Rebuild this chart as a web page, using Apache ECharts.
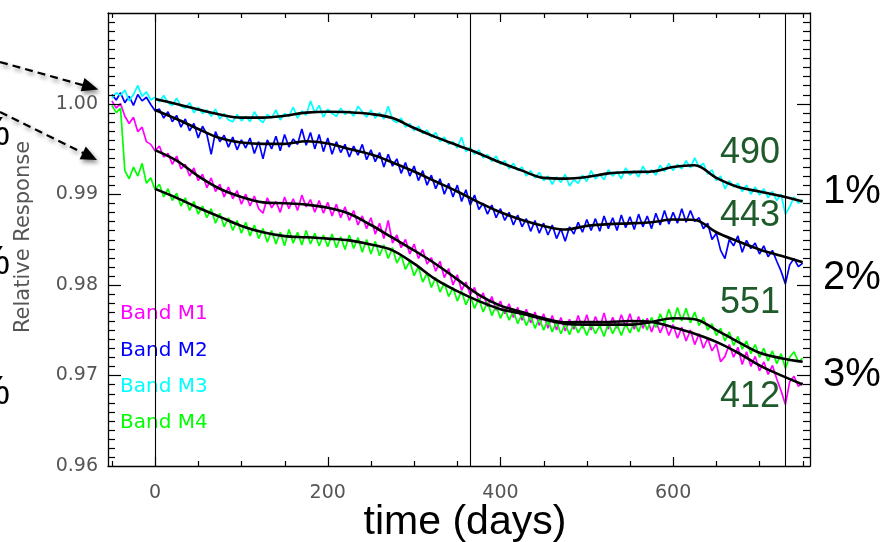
<!DOCTYPE html>
<html><head><meta charset="utf-8">
<script src="https://cdn.jsdelivr.net/npm/echarts@6/dist/echarts.min.js"></script>
<style>html,body{margin:0;padding:0;background:#fff}#c{width:885px;height:542px}</style>
</head><body><div id="c"></div>
<script>
// ---- data ----
const days = [-50,-45,-40,-35,-30,-25,-20,-15,-10,-5,
  0,5,10,15,20,25,30,35,40,45, 50,55,60,65,70,75,80,85,90,95,
  100,105,110,115,120,125,130,135,140,145, 150,155,160,165,170,175,180,185,190,195,
  200,205,210,215,220,225,230,235,240,245, 250,255,260,265,270,275,280,285,290,295,
  300,305,310,315,320,325,330,335,340,345, 350,355,360,365,370,375,380,385,390,395,
  400,405,410,415,420,425,430,435,440,445, 450,455,460,465,470,475,480,485,490,495,
  500,505,510,515,520,525,530,535,540,545, 550,555,560,565,570,575,580,585,590,595,
  600,605,610,615,620,625,630,635,640,645, 650,655,660,665,670,675,680,685,690,695,
  700,705,710,715,720,725,730,735,740,745, 750];
const fitDays = [0,25,50,75,100,125,150,175,200,225,250,275,300,325,350,375,400,425,450,475,500,525,550,575,600,625,650,675,700,725,750];

const m1Raw = [1.0003,0.9995,1.0000,0.9986,0.9978,0.9985,0.9969,0.9974,0.9958,0.9955,
  0.9948,0.9953,0.9941,0.9945,0.9933,0.9942,0.9928,0.9933,0.9920,0.9929,
  0.9915,0.9922,0.9907,0.9918,0.9903,0.9911,0.9897,0.9908,0.9895,0.9904,
  0.9889,0.9900,0.9887,0.9898,0.9884,0.9879,0.9896,0.9885,0.9892,0.9880,
  0.9897,0.9884,0.9895,0.9882,0.9899,0.9886,0.9894,0.9880,0.9893,0.9879,
  0.9891,0.9876,0.9889,0.9874,0.9886,0.9871,0.9882,0.9866,0.9876,0.9862,
  0.9874,0.9856,0.9868,0.9851,0.9871,0.9846,0.9855,0.9841,0.9850,0.9834,
  0.9845,0.9829,0.9839,0.9823,0.9830,0.9815,0.9826,0.9808,0.9818,0.9800,
  0.9811,0.9794,0.9803,0.9789,0.9797,0.9782,0.9791,0.9776,0.9787,0.9772,
  0.9782,0.9768,0.9779,0.9764,0.9775,0.9761,0.9773,0.9758,0.9770,0.9755,
  0.9768,0.9752,0.9766,0.9750,0.9764,0.9749,0.9762,0.9751,0.9766,0.9752,
  0.9767,0.9750,0.9765,0.9753,0.9769,0.9751,0.9764,0.9752,0.9767,0.9754,
  0.9768,0.9751,0.9765,0.9752,0.9763,0.9748,0.9760,0.9747,0.9758,0.9744,
  0.9756,0.9741,0.9753,0.9738,0.9750,0.9734,0.9746,0.9730,0.9741,0.9727,
  0.9735,0.9715,0.9721,0.9734,0.9720,0.9731,0.9712,0.9726,0.9710,0.9721,
  0.9705,0.9715,0.9701,0.9711,0.9696,0.9683,0.9668,0.9693,0.9699,0.9688,
  0.9692];
const m2Raw = [1.0010,1.0004,1.0012,1.0001,1.0008,0.9998,1.0010,1.0003,1.0007,0.9999,
  0.9992,0.9994,0.9984,0.9991,0.9980,0.9987,0.9974,0.9983,0.9970,0.9978,
  0.9962,0.9975,0.9966,0.9944,0.9969,0.9958,0.9965,0.9952,0.9963,0.9949,
  0.9960,0.9951,0.9962,0.9945,0.9958,0.9939,0.9960,0.9950,0.9964,0.9948,
  0.9966,0.9952,0.9961,0.9955,0.9972,0.9954,0.9968,0.9950,0.9966,0.9947,
  0.9962,0.9944,0.9958,0.9946,0.9955,0.9941,0.9953,0.9943,0.9955,0.9938,
  0.9949,0.9936,0.9946,0.9930,0.9944,0.9931,0.9939,0.9923,0.9935,0.9920,
  0.9931,0.9915,0.9926,0.9910,0.9921,0.9906,0.9917,0.9900,0.9912,0.9897,
  0.9910,0.9892,0.9905,0.9888,0.9899,0.9883,0.9890,0.9878,0.9888,0.9874,
  0.9884,0.9871,0.9880,0.9866,0.9877,0.9864,0.9873,0.9859,0.9871,0.9857,
  0.9868,0.9855,0.9866,0.9851,0.9862,0.9848,0.9864,0.9856,0.9869,0.9858,
  0.9872,0.9860,0.9873,0.9859,0.9876,0.9862,0.9874,0.9860,0.9877,0.9863,
  0.9875,0.9861,0.9878,0.9864,0.9876,0.9862,0.9879,0.9866,0.9882,0.9867,
  0.9880,0.9868,0.9884,0.9869,0.9882,0.9870,0.9874,0.9862,0.9868,0.9850,
  0.9857,0.9838,0.9829,0.9850,0.9843,0.9854,0.9836,0.9849,0.9840,0.9846,
  0.9834,0.9843,0.9831,0.9838,0.9826,0.9815,0.9801,0.9822,0.9829,0.9820,
  0.9824];
const m3Raw = [1.0006,1.0012,1.0009,1.0015,1.0003,1.0010,1.0020,1.0008,1.0013,1.0004,
  1.0007,1.0002,1.0009,1.0001,0.9998,1.0006,0.9997,0.9995,1.0001,0.9990,
  0.9996,0.9989,0.9993,0.9986,0.9994,0.9983,0.9989,0.9982,0.9980,0.9988,
  0.9981,0.9986,0.9980,0.9991,0.9983,0.9979,0.9988,0.9984,0.9993,0.9982,
  0.9989,0.9986,0.9996,0.9984,0.9992,0.9987,1.0003,0.9990,0.9998,0.9985,
  0.9994,0.9989,0.9986,0.9995,0.9988,0.9992,0.9986,0.9997,0.9991,0.9985,
  0.9993,0.9984,0.9990,0.9983,0.9997,0.9982,0.9979,0.9984,0.9974,0.9978,
  0.9970,0.9975,0.9967,0.9971,0.9963,0.9968,0.9958,0.9963,0.9955,0.9958,
  0.9951,0.9963,0.9947,0.9952,0.9944,0.9949,0.9940,0.9944,0.9936,0.9942,
  0.9933,0.9937,0.9928,0.9934,0.9926,0.9930,0.9920,0.9926,0.9918,0.9924,
  0.9915,0.9920,0.9911,0.9919,0.9913,0.9922,0.9909,0.9916,0.9912,0.9921,
  0.9914,0.9926,0.9917,0.9922,0.9916,0.9927,0.9920,0.9925,0.9917,0.9929,
  0.9921,0.9926,0.9919,0.9931,0.9922,0.9927,0.9921,0.9932,0.9925,0.9934,
  0.9926,0.9933,0.9928,0.9937,0.9929,0.9940,0.9930,0.9934,0.9922,0.9927,
  0.9915,0.9920,0.9906,0.9915,0.9908,0.9912,0.9903,0.9910,0.9900,0.9908,
  0.9899,0.9906,0.9896,0.9903,0.9893,0.9900,0.9878,0.9886,0.9897,0.9890,
  0.9894];
const m4Raw = [0.9998,0.9990,0.9995,0.9926,0.9917,0.9930,0.9920,0.9934,0.9912,0.9918,
  0.9905,0.9911,0.9897,0.9906,0.9893,0.9901,0.9887,0.9896,0.9882,0.9892,
  0.9878,0.9887,0.9874,0.9884,0.9868,0.9879,0.9864,0.9874,0.9860,0.9871,
  0.9857,0.9869,0.9854,0.9866,0.9851,0.9862,0.9847,0.9860,0.9845,0.9858,
  0.9843,0.9861,0.9846,0.9858,0.9844,0.9860,0.9845,0.9857,0.9843,0.9855,
  0.9842,0.9856,0.9841,0.9853,0.9839,0.9855,0.9840,0.9852,0.9836,0.9850,
  0.9834,0.9848,0.9832,0.9844,0.9829,0.9841,0.9824,0.9833,0.9817,0.9826,
  0.9810,0.9820,0.9803,0.9813,0.9797,0.9808,0.9792,0.9802,0.9787,0.9797,
  0.9782,0.9793,0.9778,0.9788,0.9774,0.9785,0.9770,0.9781,0.9766,0.9777,
  0.9763,0.9774,0.9761,0.9771,0.9757,0.9768,0.9755,0.9766,0.9752,0.9763,
  0.9750,0.9761,0.9748,0.9759,0.9746,0.9757,0.9745,0.9758,0.9747,0.9756,
  0.9744,0.9757,0.9746,0.9755,0.9743,0.9758,0.9746,0.9756,0.9744,0.9757,
  0.9747,0.9759,0.9748,0.9762,0.9750,0.9764,0.9753,0.9768,0.9757,0.9773,
  0.9759,0.9775,0.9760,0.9774,0.9758,0.9770,0.9755,0.9764,0.9750,0.9757,
  0.9744,0.9752,0.9738,0.9748,0.9733,0.9743,0.9729,0.9738,0.9724,0.9734,
  0.9720,0.9730,0.9716,0.9727,0.9713,0.9724,0.9708,0.9720,0.9726,0.9715,
  0.9719];

const m1Fit = [0.99486,0.9937,0.9920,0.9906,0.9897,0.9891,0.9890,0.98885,0.9885,0.98785,0.9866,0.9852,0.9838,0.9823,0.9806,0.9789,0.9777,0.9770,0.9763,0.97585,0.9759,0.9759,0.9760,0.9759,0.9753,0.9746,0.9737,0.9725,0.9711,0.9700,0.9690];
const m2Fit = [0.9993,0.9983,0.9972,0.9962,0.9957,0.99555,0.99556,0.99585,0.9956,0.9950,0.9944,0.9935,0.9925,0.9914,0.9903,0.9891,0.9880,0.98715,0.9865,0.9861,0.9865,0.9867,0.98678,0.9869,0.9872,0.98715,0.9858,0.9848,0.9839,0.9832,0.9825];
const m3Fit = [1.0005,0.99995,0.99935,0.9988,0.99845,0.99845,0.99865,0.99900,0.99910,0.99905,0.99885,0.9984,0.9973,0.9963,0.9954,0.9945,0.9935,0.9926,0.9918,0.99172,0.9919,0.9923,0.99244,0.9925,0.9930,0.9932,0.9918,0.9908,0.9903,0.9898,0.9892];
const m4Fit = [0.99059,0.9896,0.9885,0.9875,0.9865,0.9858,0.98537,0.98525,0.9851,0.9849,0.98445,0.9838,0.98233,0.9806,0.9793,0.9782,0.9773,0.9768,0.9762,0.9757,0.9756,0.9756,0.9756,0.9759,0.9763,0.9762,0.9750,0.9737,0.9725,0.9719,0.9715];

const bandNames = ['Band M1','Band M2','Band M3','Band M4'];
const bandColors = ['#ff00ff','#0000ff','#00ffff','#00ff00'];
const xMajorTicks = [0,200,400,600];
const xMinorTicks = [-50,50,100,150,250,300,350,450,500,550,650,700,750];
const yMajorTicks = [0.97,0.98,0.99,1.00];
const yLabelTicks = [0.96,0.97,0.98,0.99,1.00];
const yMinorTicks = [0.961,0.962,0.963,0.964,0.965,0.966,0.967,0.968,0.969,
  0.971,0.972,0.973,0.974,0.975,0.976,0.977,0.978,0.979,
  0.981,0.982,0.983,0.984,0.985,0.986,0.987,0.988,0.989,
  0.991,0.992,0.993,0.994,0.995,0.996,0.997,0.998,0.999,
  1.001,1.002,1.003,1.004,1.005,1.006,1.007,1.008,1.009];
const yearLines = [0,365,730];
const wavelengths = ['490','443','551','412'];
const percents = ['1%','2%','3%'];

// ---- chart ----
const chart = echarts.init(document.getElementById('c'));
const XMIN = -54.5, XMAX = 758.5, YMIN = 0.96, YMAX = 1.01;
const lblFont = '"DejaVu Sans", sans-serif';

function xAx(pos, withLabels){
  return {
    type:'value', position:pos, min:XMIN, max:XMAX, splitLine:{show:false},
    axisLine:{show:true, onZero:false, lineStyle:{color:'#000', width:1.3}},
    axisTick:{show:false},
    axisLabel:{show:withLabels, customValues: xMajorTicks, margin:18, fontFamily:lblFont, fontSize:19, color:'#555'}
  };
}
function yAx(pos, withLabels){
  return {
    type:'value', position:pos, min:YMIN, max:YMAX, splitLine:{show:false},
    axisLine:{show:true, onZero:false, lineStyle:{color:'#000', width:1.3}},
    axisTick:{show:false},
    axisLabel:{show:withLabels, customValues: yLabelTicks, margin:10, fontFamily:lblFont, fontSize:19, color:'#555',
      formatter:v=>Number(v).toFixed(2)}
  };
}

const series = [];
const raws = [m1Raw, m2Raw, m3Raw, m4Raw];
const fits = [m1Fit, m2Fit, m3Fit, m4Fit];
raws.forEach((r,k)=>{
  series.push({name:bandNames[k], type:'line', symbol:'none', z:2, animation:false,
    lineStyle:{color:bandColors[k], width:1.7}, itemStyle:{color:bandColors[k]},
    data: days.map((d,i)=>[d, r[i]])});
});
fits.forEach((f,k)=>{
  series.push({name:bandNames[k]+' fit', type:'line', symbol:'none', smooth:0.35, z:4, animation:false,
    lineStyle:{color:'#000', width:2.6},
    data: fitDays.map((d,i)=>[d, f[i]])});
});
series.push({type:'line', data:[], z:1, animation:false,
  markLine:{symbol:'none', silent:true, animation:false, label:{show:false},
    lineStyle:{color:'#000', width:1.1, type:'solid'},
    data: yearLines.map(v=>({xAxis:v}))}});

// Tick marks on all four frame edges, placed through the axis scales (api.coord)
const tickStyle = {stroke:'#000', lineWidth:1.2};
function xTickSeries(vals, len){
  return {type:'custom', silent:true, z:6, animation:false, clip:false,
    encode:{x:0, y:1},
    data: vals.map(v=>[v, YMIN]),
    renderItem:(params, api)=>{
      const cs = params.coordSys;
      const x = Math.round(api.coord([api.value(0), YMIN])[0]) + 0.5;
      const yb = cs.y + cs.height, yt = cs.y;
      return {type:'group', children:[
        {type:'line', shape:{x1:x, y1:yb, x2:x, y2:yb-len}, style:tickStyle},
        {type:'line', shape:{x1:x, y1:yt, x2:x, y2:yt+len}, style:tickStyle}
      ]};
    }};
}
function yTickSeries(vals, len){
  return {type:'custom', silent:true, z:6, animation:false, clip:false,
    encode:{x:0, y:1},
    data: vals.map(v=>[XMIN, v]),
    renderItem:(params, api)=>{
      const cs = params.coordSys;
      const y = Math.round(api.coord([XMIN, api.value(1)])[1]) + 0.5;
      const xl = cs.x, xr = cs.x + cs.width;
      return {type:'group', children:[
        {type:'line', shape:{x1:xl, y1:y, x2:xl+len, y2:y}, style:tickStyle},
        {type:'line', shape:{x1:xr, y1:y, x2:xr-len, y2:y}, style:tickStyle}
      ]};
    }};
}
series.push(xTickSeries(xMajorTicks, 9));
series.push(xTickSeries(xMinorTicks, 5));
series.push(yTickSeries(yMajorTicks, 13));
series.push(yTickSeries(yMinorTicks, 7));

function txt(x,y,text,font,fill,align,extra){
  return Object.assign({type:'text', x:x, y:y, silent:true,
    style:{text:text, font:font, fill:fill, align:align||'center', verticalAlign:'middle'}}, extra||{});
}
const green = '#1e5a2a';
const bigFont = '36px "Liberation Sans", Arial, sans-serif';
const pctFont = '40px "Liberation Sans", Arial, sans-serif';
const shadow = {shadowBlur:4, shadowColor:'rgba(0,0,0,0.45)', shadowOffsetX:2, shadowOffsetY:3};

const graphic = [
  txt(24, 237, 'Relative Response', '21px "DejaVu Sans", sans-serif', '#555', 'center', {rotation:Math.PI/2}),
  txt(750, 153.5, wavelengths[0], bigFont, green),
  txt(750, 216.5, wavelengths[1], bigFont, green),
  txt(750, 303.5, wavelengths[2], bigFont, green),
  txt(750, 397.5, wavelengths[3], bigFont, green),
  txt(823, 192, percents[0], pctFont, '#000', 'left'),
  txt(823, 278, percents[1], pctFont, '#000', 'left'),
  txt(823, 375, percents[2], pctFont, '#000', 'left'),
  txt(10, 134, '%', pctFont, '#000', 'right'),
  txt(10, 263, '%', pctFont, '#000', 'right'),
  txt(10, 393, '%', pctFont, '#000', 'right'),
  txt(465, 523, 'time (days)', '41px "Liberation Sans", Arial, sans-serif', '#000'),
  txt(120, 314, bandNames[0], '20px "DejaVu Sans", sans-serif', bandColors[0], 'left'),
  txt(120, 350.5, bandNames[1], '20px "DejaVu Sans", sans-serif', bandColors[1], 'left'),
  txt(120, 387, bandNames[2], '20px "DejaVu Sans", sans-serif', bandColors[2], 'left'),
  txt(120, 423, bandNames[3], '20px "DejaVu Sans", sans-serif', bandColors[3], 'left'),
  {type:'polyline', silent:true, shape:{points:[[0,62],[84,85.5]]},
    style:Object.assign({stroke:'#000', lineWidth:2.2, lineDash:[8,5], fill:null}, shadow)},
  {type:'polygon', silent:true, shape:{points:[[98.3,89.5],[84.5,77.9],[80.7,91.3]]},
    style:Object.assign({fill:'#000'}, shadow)},
  {type:'polyline', silent:true, shape:{points:[[0,112],[83,153]]},
    style:Object.assign({stroke:'#000', lineWidth:2.2, lineDash:[8,5], fill:null}, shadow)},
  {type:'polygon', silent:true, shape:{points:[[97,160],[85.8,146.6],[79.6,159.2]]},
    style:Object.assign({fill:'#000'}, shadow)}
];

chart.setOption({
  animation:false,
  backgroundColor:'#fff',
  grid:{left:108, right:75, top:13, bottom:76, containLabel:false},
  xAxis:[xAx('bottom', true), xAx('top', false)],
  yAxis:[yAx('left', true), yAx('right', false)],
  series: series,
  graphic: graphic
});
</script>
</body></html>
